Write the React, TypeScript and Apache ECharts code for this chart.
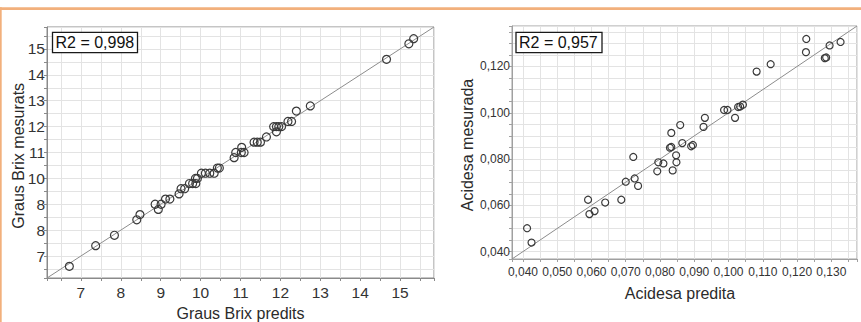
import React, { useEffect, useRef } from "react";
import * as echarts from "echarts";

// ---------- Data ----------
const brixPredicted = [
  6.71, 7.37, 7.84, 8.4, 8.48, 8.86, 8.94, 9.01, 9.12, 9.23, 9.46, 9.51, 9.6, 9.72, 9.8,
  9.88, 9.87, 9.92, 10.02, 10.12, 10.23, 10.34, 10.42, 10.47, 10.84, 10.88, 11.03, 11.02,
  11.09, 11.34, 11.42, 11.5, 11.65, 11.83, 11.9, 11.96, 11.9, 12.03, 12.19, 12.28, 12.4,
  12.75, 14.66, 15.22, 15.34,
];
const brixMeasured = [
  6.6, 7.4, 7.8, 8.4, 8.6, 9.0, 8.8, 9.0, 9.2, 9.2, 9.4, 9.6, 9.6, 9.8, 9.8,
  9.8, 10.0, 10.0, 10.2, 10.2, 10.2, 10.2, 10.4, 10.4, 10.8, 11.0, 11.2, 11.0,
  11.0, 11.4, 11.4, 11.4, 11.6, 12.0, 12.0, 12.0, 11.8, 12.0, 12.2, 12.2, 12.6,
  12.8, 14.6, 15.2, 15.4,
];
const acidPredicted = [
  0.0412, 0.0425, 0.059, 0.0594, 0.0609, 0.064, 0.0687, 0.07, 0.0722, 0.0726, 0.0736,
  0.0792, 0.0795, 0.081, 0.0837, 0.0847, 0.0848, 0.0829, 0.0833, 0.0833, 0.0859, 0.0865,
  0.0891, 0.0896, 0.0927, 0.0931, 0.0987, 0.0997, 0.1019, 0.1028, 0.1034, 0.1042, 0.1082,
  0.1123, 0.1226, 0.1227, 0.1281, 0.1285, 0.1295, 0.1327,
];
const acidMeasured = [
  0.0501, 0.0439, 0.0624, 0.0562, 0.0575, 0.0612, 0.0624, 0.0702, 0.0809, 0.0716, 0.0684,
  0.0747, 0.0786, 0.0781, 0.0751, 0.0816, 0.0786, 0.0849, 0.0852, 0.0913, 0.0947, 0.0869,
  0.0855, 0.0861, 0.0939, 0.0978, 0.1012, 0.1012, 0.0978, 0.1025, 0.1027, 0.1035, 0.1178,
  0.121, 0.1262, 0.1319, 0.1236, 0.1239, 0.1291, 0.1306,
];

const brixRange = [6.15, 15.85];
const acidRange = [0.0368, 0.1375];

const brixTickValues = [7, 8, 9, 10, 11, 12, 13, 14, 15];
const brixXTickLabels = ["7", "8", "9", "10", "11", "12", "13", "14", "15"];
const brixYTickLabels = ["7", "8", "8", "10", "11", "12", "13", "14", "15"];

const acidXTickValues = [0.04, 0.05, 0.06, 0.07, 0.08, 0.09, 0.1, 0.11, 0.12, 0.13];
const acidXTickLabels = ["0,040", "0,050", "0,060", "0,070", "0,080", "0,090", "0,100", "0,110", "0,120", "0,130"];
const acidYTickValues = [0.04, 0.06, 0.08, 0.1, 0.12];
const acidYTickLabels = ["0,040", "0,060", "0,080", "0,100", "0,120"];

const brixR2 = "R2 = 0,998";
const acidR2 = "R2 = 0,957";
const brixXTitle = "Graus Brix predits";
const brixYTitle = "Graus Brix mesurats";
const acidXTitle = "Acidesa predita";
const acidYTitle = "Acidesa mesurada";

// ---------- Chart ----------
const FONT = "'Liberation Sans', Arial, Helvetica, sans-serif";

function lookup(values: number[], labels: string[]) {
  return (v: number) => {
    for (let i = 0; i < values.length; i++) {
      if (Math.abs(values[i] - v) < 1e-7) return labels[i];
    }
    return "";
  };
}

function axis(
  gridIndex: number,
  range: number[],
  step: number,
  formatter: (v: number) => string,
  fontSize: number,
  margin: number,
  border: string
) {
  return {
    type: "value",
    gridIndex,
    min: range[0],
    max: range[1],
    minInterval: step,
    maxInterval: step,
    axisLine: { show: true, onZero: false, lineStyle: { color: border, width: 1 } },
    axisTick: { show: true, length: 3, lineStyle: { color: border, width: 1 } },
    splitLine: { show: true, lineStyle: { color: "#e3e3e3", width: 1 } },
    axisLabel: {
      show: true,
      margin,
      fontSize,
      fontFamily: FONT,
      color: "#333",
      formatter,
    },
  };
}

function titleText(text: string, x: number, y: number, rotate: boolean) {
  return {
    type: "text",
    x,
    y,
    rotation: rotate ? Math.PI / 2 : 0,
    style: {
      text,
      fontSize: 16,
      fontFamily: FONT,
      fill: "#2b2b2b",
      align: "center",
      verticalAlign: "middle",
      textAlign: "center",
      textVerticalAlign: "middle",
    },
  };
}

function r2Box(text: string, x: number, y: number, w: number, h: number) {
  return [
    {
      type: "rect",
      shape: { x, y, width: w, height: h },
      style: { fill: "#fff", stroke: "#1a1a1a", lineWidth: 1.3 },
      z: 10,
    },
    {
      type: "text",
      x: x + 3,
      y: y + h / 2,
      z: 11,
      style: {
        text,
        fontSize: 16,
        fontFamily: FONT,
        fill: "#111",
        align: "left",
        verticalAlign: "middle",
        textAlign: "left",
        textVerticalAlign: "middle",
      },
    },
  ];
}

export default function App() {
  const ref = useRef<HTMLDivElement>(null);

  useEffect(() => {
    if (!ref.current) return;
    const chart = echarts.init(ref.current, null, { renderer: "svg" });

    const brixPoints = brixPredicted.map((x, i) => [x, brixMeasured[i]]);
    const acidPoints = acidPredicted.map((x, i) => [x, acidMeasured[i]]);

    const option = {
      animation: false,
      backgroundColor: "#fff",
      grid: [
        { left: 47, top: 27, width: 387, height: 251, show: true, borderColor: "#8a8a8a", borderWidth: 1, backgroundColor: "#fff" },
        { left: 512, top: 26, width: 345, height: 233, show: true, borderColor: "#a0a0a0", borderWidth: 1, backgroundColor: "#fff" },
      ],
      xAxis: [
        axis(0, brixRange, 0.5, lookup(brixTickValues, brixXTickLabels), 15.5, 6, "#8a8a8a"),
        axis(1, acidRange, 0.005, lookup(acidXTickValues, acidXTickLabels), 12, 7, "#a0a0a0"),
      ],
      yAxis: [
        axis(0, brixRange, 0.5, lookup(brixTickValues, brixYTickLabels), 15.5, 2, "#8a8a8a"),
        axis(1, acidRange, 0.005, lookup(acidYTickValues, acidYTickLabels), 12, 2, "#a0a0a0"),
      ],
      series: [
        {
          type: "line",
          xAxisIndex: 0,
          yAxisIndex: 0,
          data: [[brixRange[0], brixRange[0]], [brixRange[1], brixRange[1]]],
          showSymbol: false,
          symbol: "none",
          silent: true,
          lineStyle: { color: "#8c8c8c", width: 1 },
          z: 2,
        },
        {
          type: "scatter",
          xAxisIndex: 0,
          yAxisIndex: 0,
          data: brixPoints,
          symbol: "circle",
          symbolSize: 8,
          itemStyle: { color: "rgba(255,255,255,0)", borderColor: "#3a3a3a", borderWidth: 1.2, opacity: 1 },
          z: 3,
        },
        {
          type: "line",
          xAxisIndex: 1,
          yAxisIndex: 1,
          data: [[acidRange[0], acidRange[0]], [acidRange[1], acidRange[1]]],
          showSymbol: false,
          symbol: "none",
          silent: true,
          lineStyle: { color: "#8c8c8c", width: 1 },
          z: 2,
        },
        {
          type: "scatter",
          xAxisIndex: 1,
          yAxisIndex: 1,
          data: acidPoints,
          symbol: "circle",
          symbolSize: 7,
          itemStyle: { color: "rgba(255,255,255,0)", borderColor: "#3a3a3a", borderWidth: 1.2, opacity: 1 },
          z: 3,
        },
      ],
      graphic: [
        { type: "rect", shape: { x: 0, y: 7.3, width: 861, height: 2.7 }, style: { fill: "#f2b07c" }, z: 20 },
        { type: "rect", shape: { x: 0, y: 7.3, width: 1.7, height: 315 }, style: { fill: "#f2b07c" }, z: 20 },
        ...r2Box(brixR2, 52.5, 32.3, 85, 20.4),
        ...r2Box(acidR2, 516, 32.3, 86, 20.4),
        titleText(brixXTitle, 240.5, 313.8, false),
        titleText(brixYTitle, 18.3, 155.8, true),
        titleText(acidXTitle, 680, 293, false),
        titleText(acidYTitle, 467.5, 145, true),
      ],
    };

    chart.setOption(option as any);
    return () => chart.dispose();
  }, []);

  return (
    <div
      ref={ref}
      style={{ position: "fixed", left: 0, top: 0, width: 861, height: 322 }}
    />
  );
}
